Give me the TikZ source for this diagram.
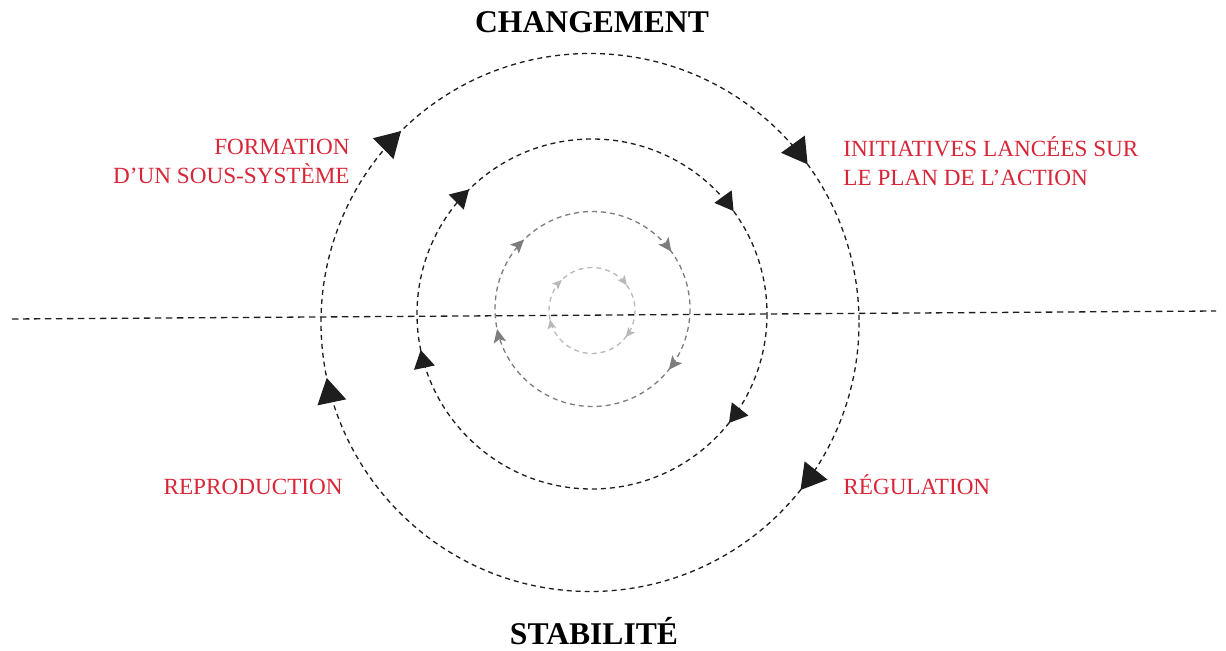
\documentclass[tikz,border=0pt]{standalone}
\usepackage{fontspec}
\setmainfont{Liberation Serif}
\usetikzlibrary{arrows.meta, decorations.markings, positioning}
\definecolor{labelred}{RGB}{215,38,56}
\definecolor{ringdark}{RGB}{30,30,30}
\definecolor{ringgray}{RGB}{125,125,125}
\definecolor{ringlight}{RGB}{185,185,185}
\tikzset{
	cycle arrows/.style={postaction={decorate}, decoration={markings,
		mark=at position 0.107 with {\arrow{#1}},
		mark=at position 0.467 with {\arrow{#1}},
		mark=at position 0.626 with {\arrow{#1}},
		mark=at position 0.900 with {\arrow{#1}}}},
	ring/.style={dash pattern=on 0.1cm off 0.08cm, line width=0.75pt},
	redtext/.style={text=labelred, font=\fontsize{13.2}{16.4}\selectfont, inner sep=0pt},
	heading/.style={font=\fontsize{18}{20}\selectfont\bfseries, inner sep=0pt},
}

\begin{document}
\begin{tikzpicture}[x=0.02cm, y=0.02cm]
	\useasboundingbox (0,0) rectangle (1226,650);
	
	\coordinate (outer) at (590,327.5);
	\coordinate (middle) at (592,336);
	\coordinate (inner) at (592.5,341);
	\coordinate (core) at (592,339.5);
	\coordinate (axis west) at (12,331);
	\coordinate (axis east) at (1216,339);
	
	\draw[ringdark, dash pattern=on 0.13cm off 0.09cm, line width=0.75pt] (axis west) -- (axis east);
	
	\draw[ring, ringdark, cycle arrows={Triangle[width=0.58cm, length=0.5cm]}] (outer) ++(0:269) arc[start angle=360, end angle=0, radius=269];
	\draw[ring, ringdark, cycle arrows={Triangle[width=0.42cm, length=0.36cm]}] (middle) ++(0:175) arc[start angle=360, end angle=0, radius=175];
	\draw[ring, ringgray, cycle arrows={Stealth[width=0.25cm, length=0.27cm, inset=0.06cm]}] (inner) ++(0:97.5) arc[start angle=360, end angle=0, radius=97.5];
	\draw[ring, ringlight, cycle arrows={Stealth[width=0.17cm, length=0.19cm, inset=0.04cm]}] (core) ++(0:43) arc[start angle=360, end angle=0, radius=43];
	
	\node[heading, anchor=base] (change) at (592,617.5) {CHANGEMENT};
	\node[heading, anchor=base] (stable) at (594,5.5) {STABILITÉ};
	
	\node[redtext, anchor=east, align=right] (subsystem) at (350,488.5) {FORMATION\\D’UN SOUS-SYSTÈME};
	\node[redtext, anchor=west, align=left] (initiatives) at (843,488.5) {INITIATIVES LANCÉES SUR\\LE PLAN DE L’ACTION};
	\node[redtext, anchor=base east] (reproduction) at (343,156) {REPRODUCTION};
	\node[redtext, anchor=base west] (regulation) at (843,156) {RÉGULATION};
\end{tikzpicture}
\end{document}
